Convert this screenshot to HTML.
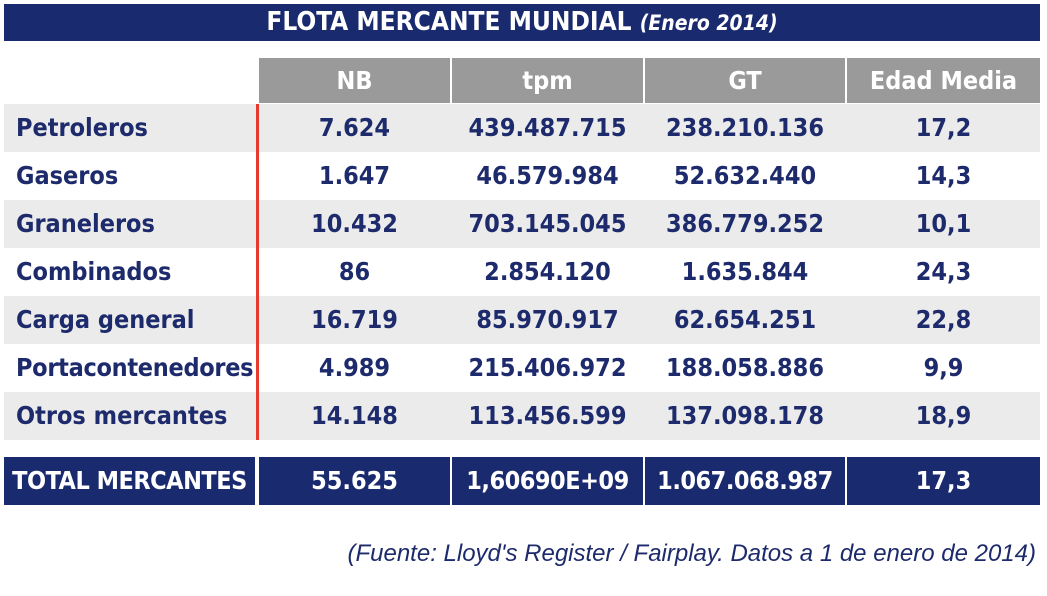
<!DOCTYPE html>
<html><head><meta charset="utf-8"><style>
body{margin:0;width:1047px;height:596px;background:#fff;position:relative;overflow:hidden;font-family:"DejaVu Sans Condensed","DejaVu Sans","Liberation Sans",sans-serif;color:#1d2a6b;font-weight:bold}
div{position:absolute;box-sizing:border-box}
.t{left:4px;top:4px;width:1036px;height:37px;background:#1a2a6e;color:#fff;font-size:26px;text-align:center;line-height:37px}
.h{top:58px;height:45px;background:#9a9a9a;color:#fff;font-size:25px;text-align:center;line-height:45px}
.r{left:4px;width:1036px;height:48px;font-size:25px;line-height:48px}
.r span{position:absolute;text-align:center;white-space:nowrap}
.g{background:#ebebeb}
.tot{top:457px;height:48px;background:#1a2a6e;color:#fff;font-size:25px;text-align:center;line-height:48px;white-space:nowrap}
</style></head><body>
<div class="t">FLOTA MERCANTE MUNDIAL <i style="font-size:21px">(Enero 2014)</i></div>
<div class="h" style="left:259px;width:191px">NB</div>
<div class="h" style="left:452px;width:191px">tpm</div>
<div class="h" style="left:645px;width:200px">GT</div>
<div class="h" style="left:847px;width:193px">Edad Media</div>

<div class="r g" style="top:104px"><span style="left:12px">Petroleros</span><span style="left:255px;width:191px">7.624</span><span style="left:448px;width:191px">439.487.715</span><span style="left:641px;width:200px">238.210.136</span><span style="left:843px;width:193px">17,2</span></div>
<div class="r" style="top:152px"><span style="left:12px">Gaseros</span><span style="left:255px;width:191px">1.647</span><span style="left:448px;width:191px">46.579.984</span><span style="left:641px;width:200px">52.632.440</span><span style="left:843px;width:193px">14,3</span></div>
<div class="r g" style="top:200px"><span style="left:12px">Graneleros</span><span style="left:255px;width:191px">10.432</span><span style="left:448px;width:191px">703.145.045</span><span style="left:641px;width:200px">386.779.252</span><span style="left:843px;width:193px">10,1</span></div>
<div class="r" style="top:248px"><span style="left:12px">Combinados</span><span style="left:255px;width:191px">86</span><span style="left:448px;width:191px">2.854.120</span><span style="left:641px;width:200px">1.635.844</span><span style="left:843px;width:193px">24,3</span></div>
<div class="r g" style="top:296px"><span style="left:12px">Carga general</span><span style="left:255px;width:191px">16.719</span><span style="left:448px;width:191px">85.970.917</span><span style="left:641px;width:200px">62.654.251</span><span style="left:843px;width:193px">22,8</span></div>
<div class="r" style="top:344px"><span style="left:12px;letter-spacing:-0.3px">Portacontenedores</span><span style="left:255px;width:191px">4.989</span><span style="left:448px;width:191px">215.406.972</span><span style="left:641px;width:200px">188.058.886</span><span style="left:843px;width:193px">9,9</span></div>
<div class="r g" style="top:392px"><span style="left:12px">Otros mercantes</span><span style="left:255px;width:191px">14.148</span><span style="left:448px;width:191px">113.456.599</span><span style="left:641px;width:200px">137.098.178</span><span style="left:843px;width:193px">18,9</span></div>
<div style="left:256px;top:104px;width:3px;height:336px;background:#e8392f"></div>

<div class="tot" style="left:4px;width:251px;letter-spacing:-0.5px">TOTAL MERCANTES</div>
<div class="tot" style="left:259px;width:191px">55.625</div>
<div class="tot" style="left:452px;width:191px;letter-spacing:-0.5px">1,60690E+09</div>
<div class="tot" style="left:645px;width:200px;letter-spacing:-0.5px">1.067.068.987</div>
<div class="tot" style="left:847px;width:193px">17,3</div>

<div style="right:11px;top:540px;font-family:'Liberation Sans',sans-serif;font-style:italic;font-weight:normal;font-size:24px;color:#1d2a6b;white-space:nowrap">(Fuente: Lloyd's Register / Fairplay. Datos a 1 de enero de 2014)</div>
</body></html>
